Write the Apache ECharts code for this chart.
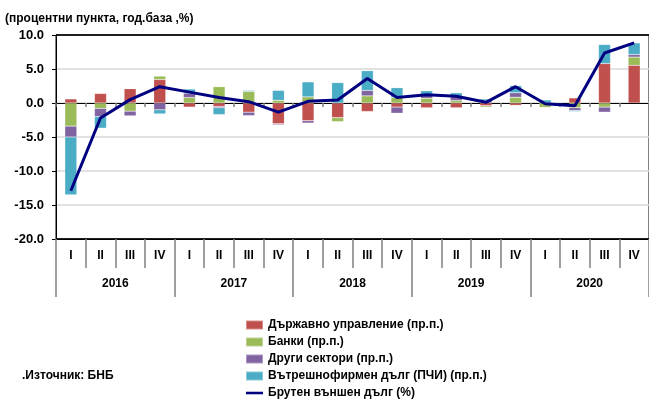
<!DOCTYPE html>
<html><head><meta charset="utf-8">
<script src="https://cdn.jsdelivr.net/npm/echarts@6/dist/echarts.min.js"></script>
<style>html,body{margin:0;padding:0;background:#fff}#c{width:649px;height:401px}</style>
</head><body><div id="c"></div>
<script>
const quarters = ['I','II','III','IV','I','II','III','IV','I','II','III','IV','I','II','III','IV','I','II','III','IV'];
const years = ['2016','2017','2018','2019','2020'];
const yTicks = [-20, -15, -10, -5, 0, 5, 10];
const govt   = [0.6, 1.4, 2.1, 3.45,  -0.6, -0.5, -1.35, -3.05,  -2.6, -2.15, -1.25, -0.6,  -0.7, -0.7, -0.4, -0.35,  0, 0.75, 5.8, 5.55];
const banks  = [-3.4, -0.8, -1.2, 0.5,  0.8, 2.4, 1.7, 0.4,  0.9, -0.6, 1.05, 0.8,  0.7, 0.35, -0.2, 0.85,  -0.65, -0.7, -0.6, 1.2];
const others = [-1.6, -1.2, -0.7, -1.0,  0.65, -0.2, -0.5, -0.15,  -0.35, 0, 0.8, -0.9,  0.5, 0.6, 0.35, 0.65,  0, -0.4, -0.75, 0.38];
const fdi    = [-8.5, -1.7, -0.05, -0.6,  0.6, -1.0, 0.15, 1.45,  2.2, 3.0, 2.9, 1.45,  0.6, 0.55, 0.25, 1.05,  0.45, -0.15, 2.8, 1.7];
const gross  = [-12.9, -2.2, 0.5, 2.4,  1.6, 0.8, 0.2, -1.35,  0.25, 0.45, 3.6, 0.8,  1.2, 1.0, 0.1, 2.4,  -0.1, -0.4, 7.35, 8.85];

const FONT = 'Liberation Sans, Arial, sans-serif';
const chart = echarts.init(document.getElementById('c'), null, {renderer: 'canvas'});
const barSeries = (name, data, color) => ({
  name, type: 'bar', stack: 'total', data, barWidth: 12, xAxisIndex: 0,
  itemStyle: {color, borderColor: 'rgba(255,255,255,0.35)', borderWidth: 0.5}
});
chart.setOption({
  animation: false,
  grid: {left: 56, top: 35, width: 600, height: 204, show: true, borderColor: '#000', borderWidth: 1, backgroundColor: 'transparent'},
  xAxis: [
    {type: 'category', data: quarters, position: 'bottom',
     axisLine: {onZero: true, lineStyle: {color: '#000', width: 1}},
     axisTick: {show: true, interval: 0, length: 4, lineStyle: {color: '#808080', width: 1.5}},
     axisLabel: {show: false}, splitLine: {show: false}},
    {type: 'category', data: quarters, position: 'bottom',
     axisLine: {onZero: false, lineStyle: {color: '#000', width: 1}},
     axisTick: {show: true, length: 29, interval: 0, lineStyle: {color: '#808080', width: 1.5}},
     axisLabel: {interval: 0, margin: 11, fontFamily: FONT, fontWeight: 'bold', fontSize: 12, color: '#000'}},
    {type: 'category', data: years, position: 'bottom', offset: 29,
     axisLine: {show: false, onZero: false},
     axisTick: {show: true, length: 29, interval: 0, lineStyle: {color: '#808080', width: 1.5}},
     axisLabel: {interval: 0, margin: 10, fontFamily: FONT, fontWeight: 'bold', fontSize: 12, color: '#000'}}
  ],
  yAxis: {
    type: 'value', min: yTicks[0], max: yTicks[yTicks.length - 1], interval: 5,
    axisLine: {show: true, lineStyle: {color: '#000', width: 1}},
    axisTick: {show: true, length: 4, lineStyle: {color: '#000'}},
    axisLabel: {margin: 12, fontFamily: FONT, fontWeight: 'bold', fontSize: 13, color: '#000', formatter: v => v.toFixed(1)},
    splitLine: {show: true, lineStyle: {color: ['#000', '#D9D9D9', '#D9D9D9', '#D9D9D9', '#D9D9D9', '#D9D9D9', '#000'], width: 1.5}}
  },
  legend: {
    orient: 'vertical', left: 245, top: 318, padding: 0, itemGap: 3,
    itemWidth: 17, itemHeight: 9, symbolKeepAspect: true,
    textStyle: {fontFamily: FONT, fontWeight: 'bold', fontSize: 12, color: '#000', lineHeight: 14},
    data: [
      {name: 'Държавно управление (пр.п.)', icon: 'rect'},
      {name: 'Банки (пр.п.)', icon: 'rect'},
      {name: 'Други сектори (пр.п.)', icon: 'rect'},
      {name: 'Вътрешнофирмен дълг (ПЧИ) (пр.п.)', icon: 'rect'},
      {name: 'Брутен външен дълг (%)', icon: 'path://M0,0H20V3H0Z'}
    ]
  },
  graphic: [
    {type: 'text', left: 5, top: 13, style: {text: '(процентни пункта, год.база ,%)', fontFamily: FONT, fontWeight: 'bold', fontSize: 12, fill: '#000'}},
    {type: 'text', left: 22, top: 370, style: {text: '.Източник: БНБ', fontFamily: FONT, fontWeight: 'bold', fontSize: 12, fill: '#000'}}
  ],
  series: [
    barSeries('Държавно управление (пр.п.)', govt, '#C0504D'),
    barSeries('Банки (пр.п.)', banks, '#9BBB59'),
    barSeries('Други сектори (пр.п.)', others, '#8064A2'),
    barSeries('Вътрешнофирмен дълг (ПЧИ) (пр.п.)', fdi, '#4BACC6'),
    {name: 'Брутен външен дълг (%)', type: 'line', data: gross, xAxisIndex: 0, symbol: 'none', z: 5,
     lineStyle: {color: '#000080', width: 3}, itemStyle: {color: '#000080'}}
  ]
});
</script></body></html>
